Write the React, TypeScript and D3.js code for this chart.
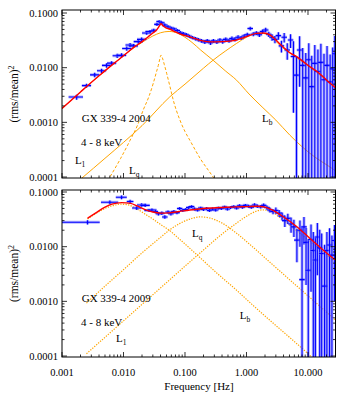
import React from 'react';
import * as d3 from 'd3';

const W = 346;
const H = 400;

// ---- 2004 power spectrum: [freq, power, err, (binLo, binHi)] ----
const pds2004: number[][] = [
  [0.00173, 0.0029, 0.0003, 0.00128, 0.0022],
  [0.0025, 0.0047, 0.0004], [0.0034, 0.0074, 0.0007], [0.0044, 0.0088, 0.0008],
  [0.0053, 0.011, 0.001], [0.0064, 0.0121, 0.001], [0.0079, 0.0165, 0.0015],
  [0.0093, 0.0168, 0.0015], [0.0113, 0.0225, 0.002], [0.0128, 0.026, 0.0022],
  [0.0145, 0.025, 0.002], [0.0174, 0.03, 0.0025], [0.0197, 0.033, 0.0025],
  [0.0238, 0.043, 0.003], [0.027, 0.046, 0.003], [0.031, 0.0485, 0.003],
  [0.035, 0.062, 0.004], [0.038, 0.07, 0.004], [0.042, 0.066, 0.004],
  [0.047, 0.06, 0.004], [0.053, 0.056, 0.0035], [0.06, 0.053, 0.003],
  [0.067, 0.051, 0.003], [0.075, 0.048, 0.003], [0.084, 0.044, 0.003],
  [0.094, 0.042, 0.003], [0.105, 0.04, 0.003], [0.118, 0.0375, 0.0025],
  [0.132, 0.0355, 0.0025], [0.148, 0.034, 0.0025], [0.165, 0.0325, 0.0025],
  [0.185, 0.031, 0.0025], [0.21, 0.0295, 0.0025], [0.23, 0.031, 0.0025],
  [0.26, 0.0285, 0.0025], [0.29, 0.031, 0.0025], [0.33, 0.0295, 0.0025],
  [0.37, 0.032, 0.0025], [0.41, 0.03, 0.0025], [0.46, 0.033, 0.0025],
  [0.52, 0.031, 0.0025], [0.58, 0.034, 0.003], [0.65, 0.033, 0.003],
  [0.73, 0.036, 0.003], [0.82, 0.035, 0.003], [0.92, 0.038, 0.003],
  [1.03, 0.04, 0.0035], [1.15, 0.052, 0.004], [1.29, 0.041, 0.0035],
  [1.45, 0.043, 0.0035], [1.62, 0.04, 0.0035], [1.82, 0.046, 0.004],
  [2.05, 0.049, 0.0045], [2.3, 0.041, 0.0045], [2.6, 0.036, 0.005],
  [2.9, 0.033, 0.005], [3.3, 0.0385, 0.006], [3.7, 0.025, 0.006],
  [4.1, 0.036, 0.007], [4.6, 0.021, 0.007], [5.2, 0.032, 0.009],
  [5.8, 0.016, 0.0145], [6.5, 0.0073, 0.009], [7.3, 0.021, 0.0165],
  [8.2, 0.011, 0.012], [9.2, 0.0065, 0.012], [10.3, 0.014, 0.014],
  [11.5, 0.0045, 0.012], [12.9, 0.012, 0.014], [14.5, 0.0085, 0.013],
  [16.2, 0.0125, 0.015], [18.2, 0.006, 0.012], [20.4, 0.011, 0.014],
  [22.9, 0.0055, 0.012], [25.2, 0.0095, 0.014], [27.3, 0.018, 0.02],
];

// ---- 2004 model and components: [freq, power] ----
const model2004 = [
  [0.001, 0.0018], [0.002, 0.0036], [0.004, 0.0071], [0.007, 0.012], [0.01, 0.0165],
  [0.015, 0.024], [0.02, 0.03], [0.025, 0.0365], [0.03, 0.043], [0.0345, 0.049],
  [0.0368, 0.054], [0.039, 0.06], [0.0407, 0.064], [0.043, 0.06], [0.046, 0.056],
  [0.05, 0.053], [0.057, 0.0505], [0.07, 0.045], [0.09, 0.04], [0.12, 0.0367],
  [0.17, 0.032], [0.254, 0.0297], [0.4, 0.03], [0.69, 0.032], [1.0, 0.037],
  [1.46, 0.0424], [1.9, 0.043], [2.4, 0.04], [3.0, 0.032], [3.9, 0.0241],
  [5.0, 0.019], [6.6, 0.0158], [8.5, 0.0128], [10.8, 0.0104], [14, 0.0085],
  [17.6, 0.0068], [22, 0.0054], [28, 0.0043],
];
const lb2004 = [
  [0.001, 0.0018], [0.002, 0.0036], [0.004, 0.0071], [0.007, 0.012], [0.01, 0.0165],
  [0.015, 0.0235], [0.02, 0.029], [0.03, 0.038], [0.04, 0.0435], [0.055, 0.046],
  [0.075, 0.043], [0.1, 0.036], [0.13, 0.029], [0.18, 0.021], [0.286, 0.0137],
  [0.45, 0.0088], [0.69, 0.0059], [1.1, 0.0033], [1.85, 0.00185], [3.0, 0.0011],
  [5.1, 0.00058], [10.8, 0.00027], [25.5, 0.00014], [28, 0.00013],
];
const lq2004 = [
  [0.0045, 0.00006], [0.006, 0.0001], [0.009, 0.00022], [0.0128, 0.00047], [0.017, 0.0009],
  [0.021, 0.0017], [0.026, 0.003], [0.0305, 0.0052], [0.0345, 0.0085], [0.0368, 0.011],
  [0.039, 0.0145], [0.0407, 0.017], [0.043, 0.015], [0.046, 0.0115], [0.0503, 0.0079],
  [0.057, 0.0045], [0.0644, 0.00256], [0.0827, 0.0011], [0.1, 0.00068], [0.12, 0.00047],
  [0.176, 0.00022], [0.286, 0.0001], [0.35, 0.00007],
];
const l12004 = [
  [0.0015, 0.00007], [0.00211, 0.000096], [0.005, 0.00022], [0.01, 0.00043], [0.02, 0.00087],
  [0.0568, 0.00294], [0.1, 0.005], [0.2, 0.0098], [0.286, 0.0137], [0.45, 0.02],
  [0.69, 0.0278], [1.0, 0.036], [1.3, 0.041], [1.66, 0.043], [2.1, 0.041],
  [2.6, 0.035], [3.9, 0.023], [6.6, 0.0152], [10.8, 0.0101], [17.6, 0.0066], [28, 0.0042],
];

// ---- 2009 power spectrum ----
const pds2009: number[][] = [
  [0.0026, 0.028, 0.0025, 0.001, 0.0041],
  [0.006, 0.065, 0.005, 0.0043, 0.0082],
  [0.0093, 0.08, 0.006, 0.0075, 0.0113],
  [0.0128, 0.067, 0.005, 0.0113, 0.0145],
  [0.0164, 0.051, 0.004], [0.0197, 0.058, 0.004], [0.0225, 0.057, 0.004],
  [0.026, 0.046, 0.003], [0.029, 0.047, 0.003], [0.033, 0.044, 0.003],
  [0.037, 0.04, 0.003], [0.042, 0.041, 0.003], [0.047, 0.035, 0.0025],
  [0.053, 0.043, 0.003], [0.059, 0.04, 0.003], [0.066, 0.044, 0.003],
  [0.074, 0.042, 0.003], [0.082, 0.05, 0.003], [0.092, 0.046, 0.003],
  [0.103, 0.048, 0.003], [0.115, 0.052, 0.003], [0.128, 0.054, 0.003],
  [0.143, 0.049, 0.003], [0.16, 0.047, 0.003], [0.18, 0.051, 0.003],
  [0.2, 0.048, 0.003], [0.225, 0.05, 0.003], [0.25, 0.046, 0.003],
  [0.28, 0.049, 0.003], [0.315, 0.047, 0.003], [0.35, 0.051, 0.003],
  [0.39, 0.05, 0.003], [0.44, 0.053, 0.003], [0.49, 0.049, 0.003],
  [0.55, 0.052, 0.003], [0.62, 0.054, 0.003], [0.69, 0.051, 0.003],
  [0.77, 0.056, 0.0035], [0.86, 0.053, 0.0035], [0.96, 0.057, 0.0035],
  [1.08, 0.055, 0.0035], [1.2, 0.053, 0.0035], [1.35, 0.058, 0.004],
  [1.5, 0.055, 0.004], [1.7, 0.054, 0.004], [1.9, 0.057, 0.0045],
  [2.15, 0.052, 0.0045], [2.4, 0.047, 0.005], [2.7, 0.044, 0.005],
  [3.0, 0.046, 0.006], [3.4, 0.041, 0.006], [3.8, 0.036, 0.006],
  [4.2, 0.03, 0.007], [4.7, 0.033, 0.007], [5.3, 0.026, 0.008],
  [5.9, 0.023, 0.008], [6.6, 0.0132, 0.008], [7.4, 0.02, 0.01],
  [8.0, 0.0025, 0.02], [8.6, 0.023, 0.012], [9.3, 0.012, 0.01],
  [10.1, 0.0037, 0.01], [11.2, 0.0135, 0.012], [12.2, 0.0085, 0.01],
  [13.2, 0.0057, 0.009], [14.2, 0.015, 0.012], [15.5, 0.0095, 0.011],
  [16.7, 0.0075, 0.01], [18.6, 0.0019, 0.009], [20.3, 0.0085, 0.01],
  [22.4, 0.0107, 0.011], [24.5, 0.007, 0.009], [27, 0.013, 0.012],
];

const model2009 = [
  [0.0026, 0.033], [0.0035, 0.041], [0.005, 0.053], [0.0065, 0.06], [0.0093, 0.064],
  [0.013, 0.062], [0.017, 0.055], [0.022, 0.048], [0.03, 0.043], [0.04, 0.041],
  [0.055, 0.0415], [0.08, 0.044], [0.12, 0.047], [0.2, 0.05], [0.4, 0.052],
  [0.69, 0.0535], [1.0, 0.054], [1.5, 0.055], [2.0, 0.053], [2.5, 0.048],
  [3.95, 0.0353], [6.6, 0.0232], [10.8, 0.0141], [17.6, 0.0087], [23.5, 0.0066], [28, 0.0057],
];
const lb2009 = [
  [0.0026, 0.032], [0.0035, 0.04], [0.005, 0.05], [0.007, 0.057], [0.009, 0.06],
  [0.012, 0.058], [0.016, 0.05], [0.022, 0.04], [0.03, 0.032], [0.04, 0.0255],
  [0.057, 0.0195], [0.08, 0.014], [0.12, 0.0093], [0.2, 0.0055], [0.35, 0.0031],
  [0.69, 0.0016], [1.2, 0.0009], [2.4, 0.00045], [5, 0.00022], [10, 0.00011], [12, 0.00009],
];
const lq2009 = [
  [0.0025, 0.00093], [0.005, 0.0019], [0.01, 0.0038], [0.02, 0.0077], [0.04, 0.0148],
  [0.057, 0.0205], [0.083, 0.0267], [0.12, 0.032], [0.175, 0.035], [0.25, 0.0335],
  [0.4, 0.027], [0.69, 0.0176], [1.2, 0.0104], [2.4, 0.0052], [5, 0.0025],
  [10, 0.00126], [23, 0.00055], [28, 0.00045],
];
const l12009 = [
  [0.0025, 0.00011], [0.005, 0.00022], [0.01, 0.00044], [0.02, 0.00088], [0.05, 0.0022],
  [0.1, 0.0044], [0.2, 0.0087], [0.4, 0.017], [0.69, 0.027], [1.0, 0.036],
  [1.4, 0.044], [1.8, 0.047], [2.4, 0.045], [3.5, 0.034], [5, 0.025],
  [6.6, 0.0195], [10.8, 0.0125], [17.6, 0.008], [23.5, 0.0061], [28, 0.0052],
];

const xTicks = [0.001, 0.01, 0.1, 1, 10];
const xTickLabels = ['0.001', '0.010', '0.100', '1.000', '10.000'];
const yTicks = [0.0001, 0.001, 0.01, 0.1];
const yTickLabels = ['0.0001', '0.0010', '0.0100', '0.1000'];

const FONT = 'Liberation Serif, Times New Roman, DejaVu Serif, serif';
const ORANGE = '#ffa500';

const L = 62;
const R = 335.5;
const x = d3.scaleLog().domain([0.001, 28]).range([L, R]);

type Lbl = { t: string; sub?: string; fx: number; fv: number };
type PanelProps = {
  top: number;
  bottom: number;
  yMax: number;
  data: number[][];
  model: number[][];
  comps: { pts: number[][]; dash: string; w: number }[];
  labels: Lbl[];
  showX: boolean;
  id: string;
};

function minorTicks(lo: number, hi: number) {
  const out: { v: number; major: boolean }[] = [];
  for (let e = -6; e <= 3; e++) {
    for (let k = 1; k <= 9; k++) {
      const v = k * Math.pow(10, e);
      if (v >= lo * 0.9999 && v <= hi * 1.0001) out.push({ v, major: k === 1 });
    }
  }
  return out;
}

function Panel({ top, bottom, yMax, data, model, comps, labels, showX, id }: PanelProps) {
  const yMin = 9.6e-5;
  const y = d3.scaleLog().domain([yMin, yMax]).range([bottom, top]);
  const line = d3
    .line<number[]>()
    .x((d) => x(d[0]))
    .y((d) => y(d[1]))
    .curve(d3.curveMonotoneX);
  const xt = minorTicks(0.001, 28);
  const yt = minorTicks(yMin, yMax);
  const clip = `clip-${id}`;
  return (
    <g>
      <defs>
        <clipPath id={clip}>
          <rect x={L} y={top} width={R - L} height={bottom - top} />
        </clipPath>
      </defs>
      <g clipPath={`url(#${clip})`}>
        {comps.map((c, i) => (
          <path key={i} d={line(c.pts) || ''} fill="none" stroke={ORANGE} strokeWidth={c.w} strokeDasharray={c.dash} />
        ))}
        {data.map((d, i) => {
          const [f, p, e] = d;
          const hw = f < 0.03 ? 0.075 : 0.045;
          const lo = d.length > 3 ? d[3] : f * Math.pow(10, -hw);
          const hi = d.length > 4 ? d[4] : f * Math.pow(10, hw);
          const vlo = Math.max(p - e, yMin * 0.5);
          const vhi = p + e;
          return (
            <g key={i}>
              <line x1={x(lo)} x2={x(hi)} y1={y(p)} y2={y(p)} stroke="#6b6bff" strokeOpacity={0.5} strokeWidth={3} />
              <line x1={x(f)} x2={x(f)} y1={y(vlo)} y2={y(vhi)} stroke="#6b6bff" strokeOpacity={0.5} strokeWidth={3} />
              <line x1={x(lo)} x2={x(hi)} y1={y(p)} y2={y(p)} stroke="#0000ff" strokeWidth={1.1} />
              <line x1={x(f)} x2={x(f)} y1={y(vlo)} y2={y(vhi)} stroke="#0000ff" strokeWidth={1.1} />
            </g>
          );
        })}
        <path d={line(model) || ''} fill="none" stroke="#ff0000" strokeWidth={1.4} />
      </g>
      <rect x={L} y={top} width={R - L} height={bottom - top} fill="none" stroke="#000" strokeWidth={1} />
      {xt.map((t, i) => {
        const px = x(t.v);
        const len = t.major ? 5 : 2.5;
        return (
          <g key={i}>
            <line x1={px} x2={px} y1={bottom} y2={bottom - len} stroke="#000" strokeWidth={0.8} />
            <line x1={px} x2={px} y1={top} y2={top + len} stroke="#000" strokeWidth={0.8} />
          </g>
        );
      })}
      {yt.map((t, i) => {
        const py = y(t.v);
        const len = t.major ? 5 : 2.5;
        return (
          <g key={i}>
            <line x1={L} x2={L + len} y1={py} y2={py} stroke="#000" strokeWidth={0.8} />
            <line x1={R} x2={R - len} y1={py} y2={py} stroke="#000" strokeWidth={0.8} />
          </g>
        );
      })}
      {yTicks.map((v, i) => (
        <text key={i} x={L - 4} y={y(v)} dy="0.35em" textAnchor="end" fontFamily={FONT} fontSize={10.5}>
          {yTickLabels[i]}
        </text>
      ))}
      {showX &&
        xTicks.map((v, i) => (
          <text key={i} x={x(v)} y={bottom + 19} textAnchor="middle" fontFamily={FONT} fontSize={10.5}>
            {xTickLabels[i]}
          </text>
        ))}
      <text
        transform={`translate(18,${(top + bottom) / 2}) rotate(-90)`}
        textAnchor="middle"
        fontFamily={FONT}
        fontSize={11.5}
      >
        (rms/mean)<tspan dy={-4} fontSize={8}>2</tspan>
      </text>
      {labels.map((l, i) => (
        <text key={i} x={x(l.fx)} y={y(l.fv)} fontFamily={FONT} fontSize={11} fill="#000">
          {l.t}
          {l.sub && (
            <tspan dy={3} fontSize={7.5}>
              {l.sub}
            </tspan>
          )}
        </text>
      ))}
    </g>
  );
}

export default function App() {
  return (
    <svg width={W} height={H} style={{ position: 'absolute', left: 0, top: 0, background: '#fff' }}>
      <rect x={0} y={0} width={W} height={H} fill="#fff" />
      <Panel
        id="a"
        top={10}
        bottom={178}
        yMax={0.1135}
        data={pds2004}
        model={model2004}
        comps={[
          { pts: lb2004, dash: 'none', w: 1 },
          { pts: l12004, dash: 'none', w: 1 },
          { pts: lq2004, dash: '3 2', w: 1 },
        ]}
        labels={[
          { t: 'GX 339-4 2004', fx: 0.00209, fv: 0.00102 },
          { t: '4 - 8 keV', fx: 0.00204, fv: 0.000376 },
          { t: 'L', sub: '1', fx: 0.00162, fv: 0.000173 },
          { t: 'L', sub: 'q', fx: 0.0123, fv: 0.000113 },
          { t: 'L', sub: 'b', fx: 1.79, fv: 0.001 },
        ]}
        showX={false}
      />
      <Panel
        id="b"
        top={190}
        bottom={357}
        yMax={0.1088}
        data={pds2009}
        model={model2009}
        comps={[
          { pts: lb2009, dash: '1.3 1.3', w: 1.2 },
          { pts: lq2009, dash: '1.3 1.3', w: 1.2 },
          { pts: l12009, dash: '1.3 1.3', w: 1.2 },
        ]}
        labels={[
          { t: 'GX 339-4 2009', fx: 0.00209, fv: 0.00097 },
          { t: '4 - 8 keV', fx: 0.00204, fv: 0.000361 },
          { t: 'L', sub: '1', fx: 0.00755, fv: 0.00018 },
          { t: 'L', sub: 'q', fx: 0.13, fv: 0.015 },
          { t: 'L', sub: 'b', fx: 0.78, fv: 0.000475 },
        ]}
        showX={true}
      />
      <text x={199} y={390} textAnchor="middle" fontFamily={FONT} fontSize={11}>
        Frequency [Hz]
      </text>
    </svg>
  );
}
